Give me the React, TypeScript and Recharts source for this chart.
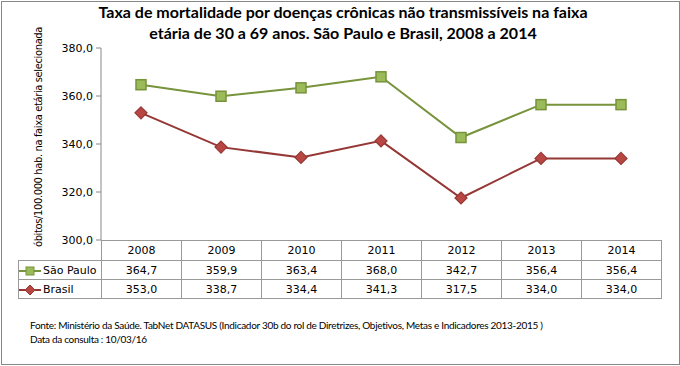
import React from 'react';
import { LineChart, Line, XAxis, YAxis } from 'recharts';

const years = ['2008', '2009', '2010', '2011', '2012', '2013', '2014'];
const saoPaulo = [364.7, 359.9, 363.4, 368.0, 342.7, 356.4, 356.4];
const brasil = [353.0, 338.7, 334.4, 341.3, 317.5, 334.0, 334.0];
const yTicks = [300, 320, 340, 360, 380];

const titleLines = [
  'Taxa de mortalidade por doenças crônicas não transmissíveis na faixa',
  'etária de 30 a 69 anos. São Paulo e Brasil, 2008 a 2014',
];
const yLabel = 'óbitos/100.000 hab. na faixa etária selecionada';
const footer = [
  'Fonte: Ministério da Saúde. TabNet DATASUS (Indicador 30b do rol de Diretrizes, Objetivos, Metas e Indicadores 2013-2015 )',
  'Data da consulta : 10/03/16',
];

const GREEN = '#77933C';
const GREEN_FILL = '#9BBB59';
const RED = '#953735';
const RED_FILL = '#B84744';

const data = years.map((y, i) => ({ year: y, sp: saoPaulo[i], br: brasil[i] }));

const fmt = (v: number) => v.toFixed(1).replace('.', ',');

const SquareDot = (props: any) => {
  const { cx, cy } = props;
  if (cx == null || cy == null) return null;
  return (
    <rect x={cx - 5} y={cy - 5} width={10} height={10} fill={GREEN_FILL} stroke={GREEN} strokeWidth={1.5} />
  );
};

const DiamondDot = (props: any) => {
  const { cx, cy } = props;
  if (cx == null || cy == null) return null;
  return (
    <path d={`M${cx},${cy - 6} L${cx + 6},${cy} L${cx},${cy + 6} L${cx - 6},${cy} Z`} fill={RED_FILL} stroke={RED} strokeWidth={1.2} />
  );
};

const LegendIcon = ({ kind }: { kind: 'sp' | 'br' }) => (
  <svg width={22} height={12} style={{ verticalAlign: 'middle', marginRight: 2 }}>
    {kind === 'sp' ? (
      <>
        <line x1={0} y1={6} x2={22} y2={6} stroke={GREEN} strokeWidth={2} />
        <rect x={7} y={2} width={8} height={8} fill={GREEN_FILL} stroke={GREEN} />
      </>
    ) : (
      <>
        <line x1={0} y1={6} x2={22} y2={6} stroke={RED} strokeWidth={2} />
        <path d="M11,1 L16,6 L11,11 L6,6 Z" fill={RED_FILL} stroke={RED} />
      </>
    )}
  </svg>
);

const cell: React.CSSProperties = {
  border: '1px solid #999',
  padding: 0,
  textAlign: 'center',
  fontSize: 11,
};

export default function App() {
  return (
    <div style={{ position: 'relative', width: 680, height: 366, background: '#fff', fontFamily: 'DejaVu Sans, sans-serif' }}>
      <style>{'body{margin:0}'}</style>
      <div style={{ position: 'absolute', left: 1, top: 1, width: 677, height: 362, border: '1px solid #888' }} />
      <div
        style={{
          position: 'absolute',
          left: 3,
          top: 1,
          width: 680,
          textAlign: 'center',
          fontFamily: 'Lato, sans-serif',
          fontWeight: 'bold',
          fontSize: 16,
          lineHeight: '21px',
        }}
      >
        {titleLines.map((t) => (
          <div key={t}>{t}</div>
        ))}
      </div>
      <div
        style={{
          position: 'absolute',
          left: 38,
          top: 137,
          transform: 'translate(-50%, -50%) rotate(-90deg)',
          whiteSpace: 'nowrap',
          fontSize: 10,
          letterSpacing: -0.4,
        }}
      >
        {yLabel}
      </div>
      <div style={{ position: 'absolute', left: 0, top: 0 }}>
        <LineChart width={680} height={366} data={data} margin={{ top: 48, right: 19, bottom: 126, left: 0 }}>
          <XAxis dataKey="year" hide padding={{ left: 40, right: 40 }} />
          <YAxis
            width={101}
            domain={[300, 380]}
            ticks={yTicks}
            tickFormatter={fmt}
            tick={{ fill: '#000', fontSize: 11 }}
            tickSize={5}
            tickMargin={3}
            axisLine={{ stroke: '#888' }}
            tickLine={{ stroke: '#888' }}
          />
          <Line dataKey="sp" stroke={GREEN} strokeWidth={2} dot={<SquareDot />} isAnimationActive={false} />
          <Line dataKey="br" stroke={RED} strokeWidth={2} dot={<DiamondDot />} isAnimationActive={false} />
        </LineChart>
      </div>
      <table
        style={{
          position: 'absolute',
          left: 18,
          top: 240,
          borderCollapse: 'collapse',
          tableLayout: 'fixed',
        }}
      >
        <colgroup>
          <col style={{ width: 83 }} />
          {years.map((y) => (
            <col key={y} style={{ width: 80 }} />
          ))}
        </colgroup>
        <tbody>
          <tr style={{ height: 20 }}>
            <td style={{ padding: 0, border: 'none' }} />
            {years.map((y) => (
              <td key={y} style={cell}>{y}</td>
            ))}
          </tr>
          <tr style={{ height: 19 }}>
            <td style={{ ...cell, textAlign: 'left', whiteSpace: 'nowrap' }}>
              <LegendIcon kind="sp" />São Paulo
            </td>
            {saoPaulo.map((v, i) => (
              <td key={i} style={cell}>{fmt(v)}</td>
            ))}
          </tr>
          <tr style={{ height: 19 }}>
            <td style={{ ...cell, textAlign: 'left', whiteSpace: 'nowrap' }}>
              <LegendIcon kind="br" />Brasil
            </td>
            {brasil.map((v, i) => (
              <td key={i} style={cell}>{fmt(v)}</td>
            ))}
          </tr>
        </tbody>
      </table>
      <div
        style={{
          position: 'absolute',
          left: 30,
          top: 318,
          fontFamily: 'Lato, sans-serif',
          fontSize: 10,
          lineHeight: '14px',
          whiteSpace: 'nowrap',
          letterSpacing: -0.3,
        }}
      >
        {footer.map((t) => (
          <div key={t}>{t}</div>
        ))}
      </div>
    </div>
  );
}
